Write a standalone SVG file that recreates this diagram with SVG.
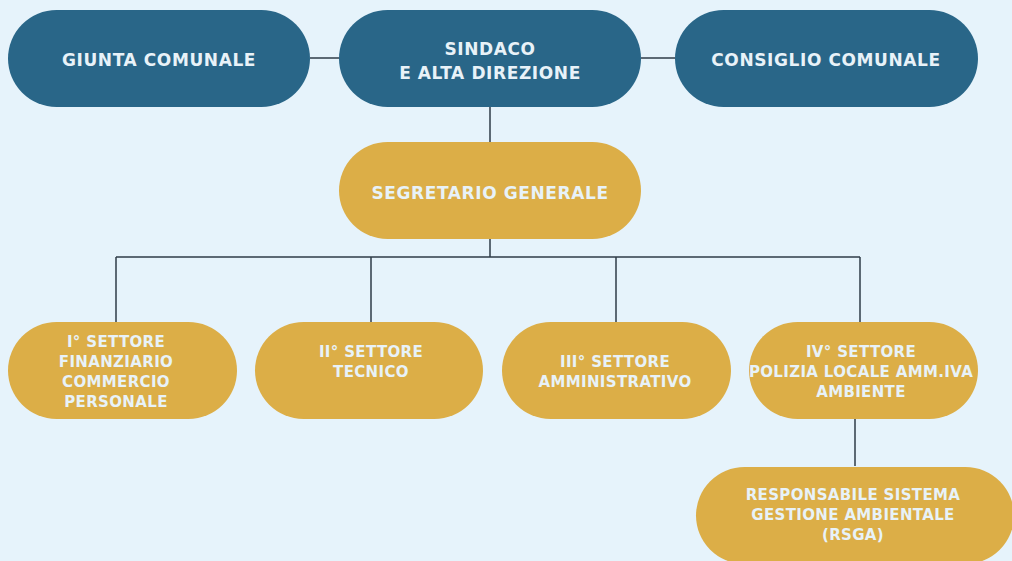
<svg xmlns="http://www.w3.org/2000/svg" width="1012" height="561" viewBox="0 0 1012 561">
<style>
.blue{fill:#296688}
.gold{fill:#dcae47}
.t{font-family:"DejaVu Sans",sans-serif;font-weight:700;fill:#e8f2f8;text-anchor:middle}
.big{font-size:17px;letter-spacing:0.6px}
.sm{font-size:15px;letter-spacing:0.35px}
.ln{stroke:#2f3d48;stroke-width:1.5;fill:none}
</style>
<rect width="1012" height="561" fill="#e6f3fb"/>
<g id="connectors">
<path class="ln" d="M310 58H339M641 58H675M490 107V142M490 239V257M116 257H860M116 257V322M371 257V322M616 257V322M860 257V322M855 419V466"/>
</g>
<g id="giunta"><rect class="blue" x="8" y="10" width="302" height="97" rx="48.5"/><text class="t big" x="159" y="65.5">GIUNTA COMUNALE</text></g>
<g id="sindaco"><rect class="blue" x="339" y="10" width="302" height="97" rx="48.5"/><text class="t big" x="490" y="54.5">SINDACO</text><text class="t big" x="490" y="78.5">E ALTA DIREZIONE</text></g>
<g id="consiglio"><rect class="blue" x="675" y="10" width="303" height="97" rx="48.5"/><text class="t big" x="826" y="65.5">CONSIGLIO COMUNALE</text></g>
<g id="segretario"><rect class="gold" x="339" y="142" width="302" height="97" rx="48.5"/><text class="t big" x="490" y="198.5">SEGRETARIO GENERALE</text></g>
<g id="settore1"><rect class="gold" x="8" y="322" width="229" height="97" rx="48.5"/><text class="t sm" x="116" y="346.5">I° SETTORE</text><text class="t sm" x="116" y="366.5">FINANZIARIO</text><text class="t sm" x="116" y="386.5">COMMERCIO</text><text class="t sm" x="116" y="406.5">PERSONALE</text></g>
<g id="settore2"><rect class="gold" x="255" y="322" width="228" height="97" rx="48.5"/><text class="t sm" x="371" y="356.5">II° SETTORE</text><text class="t sm" x="371" y="376.5">TECNICO</text></g>
<g id="settore3"><rect class="gold" x="502" y="322" width="229" height="97" rx="48.5"/><text class="t sm" x="615" y="366.5">III° SETTORE</text><text class="t sm" x="615" y="386.5">AMMINISTRATIVO</text></g>
<g id="settore4"><rect class="gold" x="749" y="322" width="229" height="97" rx="48.5"/><text class="t sm" x="861" y="356.5">IV° SETTORE</text><text class="t sm" x="861" y="376.5">POLIZIA LOCALE AMM.IVA</text><text class="t sm" x="861" y="396.5">AMBIENTE</text></g>
<g id="rsga"><rect class="gold" x="696" y="467" width="318" height="97" rx="48.5"/><text class="t sm" x="853" y="500">RESPONSABILE SISTEMA</text><text class="t sm" x="853" y="520">GESTIONE AMBIENTALE</text><text class="t sm" x="853" y="540">(RSGA)</text></g>
</svg>
